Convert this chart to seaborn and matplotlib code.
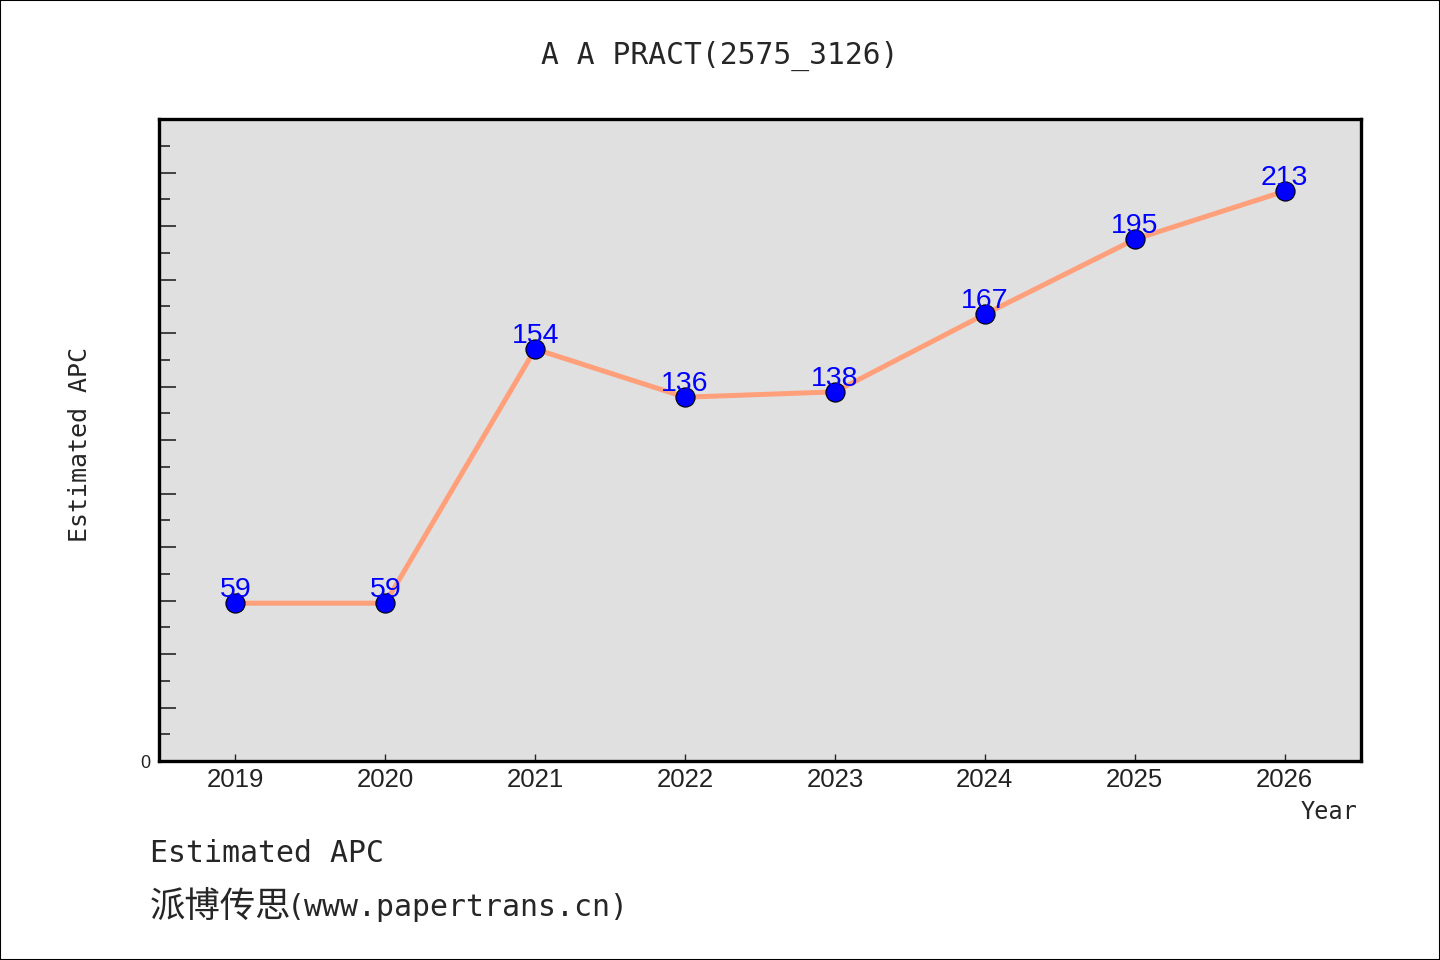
import matplotlib
matplotlib.use("Agg")
import matplotlib.pyplot as plt
import seaborn as sns
import pandas as pd
from matplotlib.ticker import FixedLocator, FixedFormatter
from matplotlib.patches import Rectangle

years = [2019, 2020, 2021, 2022, 2023, 2024, 2025, 2026]
apc = [59, 59, 154, 136, 138, 167, 195, 213]
title = "A A PRACT(2575_3126)"
ylabel = "Estimated APC"
xlabel = "Year"
footer1 = "Estimated APC"
footer2_cn = "派博传思"
footer2_url = "(www.papertrans.cn)"

df = pd.DataFrame({"Year": years, "APC": apc})

sns.set_style("ticks")
plt.rcParams['font.family'] = ['DejaVu Sans Mono', 'Noto Sans CJK SC']

fig = plt.figure(figsize=(14.4, 9.6), dpi=100)
ax = fig.add_axes([159/1440, 1-761/960, (1361-159)/1440, (761-119)/960])
ax.set_facecolor("#e0e0e0")

sns.lineplot(data=df, x="Year", y="APC", ax=ax, color="#ffa07a", linewidth=3.6, zorder=2)
sns.scatterplot(data=df, x="Year", y="APC", ax=ax, color="#0000ff", edgecolor="black",
                linewidth=0.8, s=190, zorder=3)

for x, y in zip(years, apc):
    ax.annotate(str(y), (x, y), xytext=(0, 4.5), textcoords="offset points",
                ha="center", va="baseline", color="#0000ff", fontsize=20.5,
                family="Liberation Sans", zorder=4)

ax.set_xlim(2018.49, 2026.51)
ax.set_ylim(0, 240)
ax.set_xticks(years)
ax.set_xticklabels([str(y) for y in years], family="Liberation Sans", fontsize=18.5, color="#222222")
ax.yaxis.set_major_locator(FixedLocator(list(range(0, 221, 20))))
ax.yaxis.set_major_formatter(FixedFormatter(["0"] + [""] * 11))
ax.yaxis.set_minor_locator(FixedLocator(list(range(10, 231, 20))))
for lab in ax.get_yticklabels():
    lab.set_family("Liberation Sans")
    lab.set_fontsize(13)
    lab.set_color("#222222")
ax.tick_params(axis="x", direction="in", length=5, width=1, pad=5)
ax.tick_params(axis="y", which="major", direction="in", length=12, width=1.2, pad=6)
ax.tick_params(axis="y", which="minor", direction="in", length=8, width=1.2)
ax.set_xlabel("")
ax.set_ylabel("")
for sp in ax.spines.values():
    sp.set_visible(True)
    sp.set_linewidth(2.4)
    sp.set_color("black")

fig.text(720/1440, 1-56/960, title, ha="center", va="center", fontsize=21.3)
fig.text(80/1440, 1-444/960, ylabel, ha="center", va="center", rotation=90, fontsize=18)
fig.text(1358/1440, 1-812/960, xlabel, ha="right", va="center", fontsize=17)
fig.text(150/1440, 1-853/960, footer1, ha="left", va="center", fontsize=21.5)
fig.text(150/1440, 1-907/960, footer2_cn, ha="left", va="center", fontsize=25.5,
         family="Noto Sans CJK SC")
fig.text(287/1440, 1-907/960, footer2_url, ha="left", va="center", fontsize=21.5)

fig.patches.append(Rectangle((0, 0), 1, 1, transform=fig.transFigure, fill=False,
                             edgecolor="black", linewidth=1.5))

fig.savefig("out.png", dpi=100)
